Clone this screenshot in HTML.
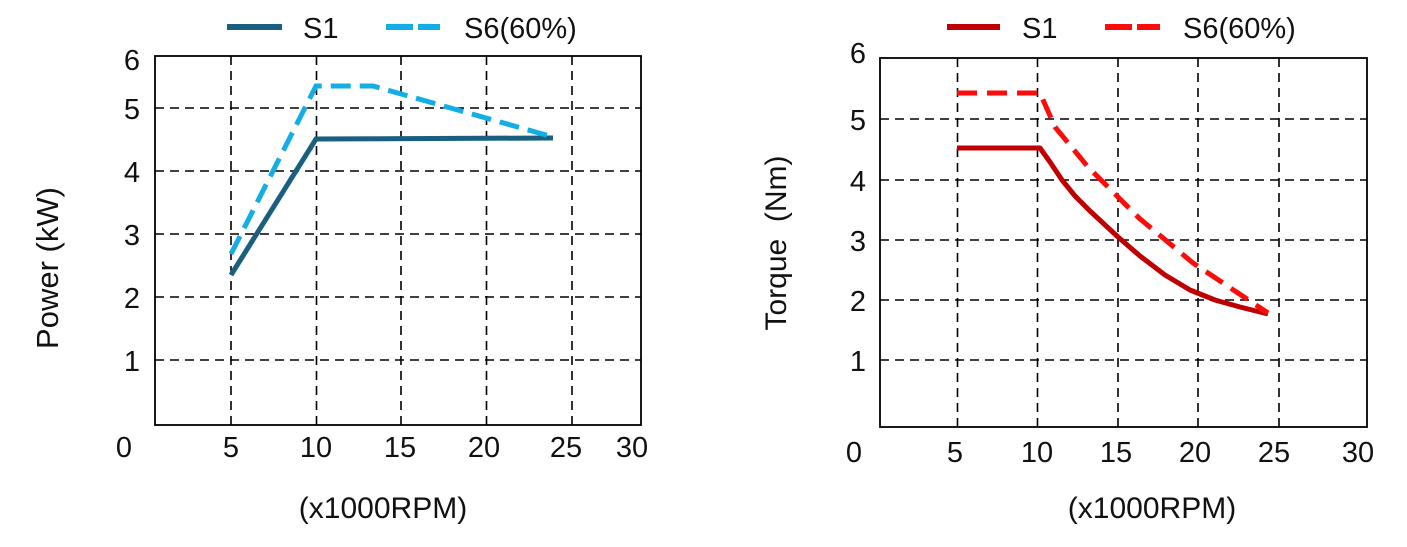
<!DOCTYPE html>
<html><head><meta charset="utf-8"><style>
html,body{margin:0;padding:0;background:#fff;}
svg{display:block;}
text{font-family:"Liberation Sans",sans-serif;fill:#111;}
</style></head><body>
<svg width="1407" height="547" viewBox="0 0 1407 547" xmlns="http://www.w3.org/2000/svg">
<!-- LEFT CHART -->
<g stroke="#000" stroke-width="1.6" stroke-dasharray="9,6" fill="none">
<line x1="231" y1="56" x2="231" y2="425"/><line x1="316.5" y1="56" x2="316.5" y2="425"/>
<line x1="401" y1="56" x2="401" y2="425"/><line x1="486.5" y1="56" x2="486.5" y2="425"/>
<line x1="572" y1="56" x2="572" y2="425"/>
<line x1="155" y1="108" x2="641" y2="108"/><line x1="155" y1="171" x2="641" y2="171"/>
<line x1="155" y1="234" x2="641" y2="234"/><line x1="155" y1="297" x2="641" y2="297"/>
<line x1="155" y1="360" x2="641" y2="360"/>
</g>
<rect x="155" y="56" width="486" height="369" fill="none" stroke="#000" stroke-width="1.8"/>
<polyline points="231,275 316,139 553,138" fill="none" stroke="#1a5f80" stroke-width="5"/>
<polyline points="231,254 316,86 373,86 553,137" fill="none" stroke="#13aee6" stroke-width="5" stroke-dasharray="20,9"/>
<g font-size="29" text-anchor="middle">
<text x="132" y="70">6</text><text x="132" y="119">5</text><text x="132" y="182">4</text>
<text x="132" y="245">3</text><text x="132" y="308">2</text><text x="132" y="371">1</text>
<text x="124" y="457">0</text><text x="231" y="457">5</text><text x="316" y="457">10</text>
<text x="400" y="457">15</text><text x="484" y="457">20</text><text x="566" y="457">25</text>
<text x="632" y="457">30</text>
<text x="383" y="518" font-size="30">(x1000RPM)</text>
<text transform="translate(58,268) rotate(-90)" font-size="31">Power (kW)</text>
</g>
<line x1="227" y1="27" x2="282" y2="27" stroke="#1a5f80" stroke-width="6"/>
<line x1="386" y1="27" x2="440" y2="27" stroke="#13aee6" stroke-width="6" stroke-dasharray="27,5"/>
<text x="303" y="38" font-size="29">S1</text>
<text x="464" y="38" font-size="29">S6(60%)</text>

<!-- RIGHT CHART -->
<g stroke="#000" stroke-width="1.6" stroke-dasharray="9,6" fill="none">
<line x1="957.5" y1="58" x2="957.5" y2="427"/><line x1="1037.5" y1="58" x2="1037.5" y2="427"/>
<line x1="1118" y1="58" x2="1118" y2="427"/><line x1="1198" y1="58" x2="1198" y2="427"/>
<line x1="1279" y1="58" x2="1279" y2="427"/>
<line x1="880" y1="119" x2="1367" y2="119"/><line x1="880" y1="180" x2="1367" y2="180"/>
<line x1="880" y1="240" x2="1367" y2="240"/><line x1="880" y1="300" x2="1367" y2="300"/>
<line x1="880" y1="360" x2="1367" y2="360"/>
</g>
<rect x="880" y="58" width="487" height="369" fill="none" stroke="#000" stroke-width="1.8"/>
<polyline points="957,148 1040,148 1050,162 1062,180 1075,196 1090,211 1118,237 1140,256 1165,275 1190,290 1215,300 1240,307 1268,314" fill="none" stroke="#c00000" stroke-width="5" stroke-linejoin="round"/>
<polyline points="957,93 1040,93 1055,127 1088,167 1139,218 1193,263 1268,313" fill="none" stroke="#ff0a0a" stroke-width="5" stroke-dasharray="20,10"/>
<g font-size="29" text-anchor="middle">
<text x="858" y="63">6</text><text x="858" y="130">5</text><text x="858" y="191">4</text>
<text x="858" y="251">3</text><text x="858" y="311">2</text><text x="858" y="371">1</text>
<text x="854" y="462">0</text><text x="955" y="462">5</text><text x="1037" y="462">10</text>
<text x="1116" y="462">15</text><text x="1195" y="462">20</text><text x="1274" y="462">25</text>
<text x="1358" y="462">30</text>
<text x="1152" y="518" font-size="30">(x1000RPM)</text>
<text transform="translate(786,243) rotate(-90)" font-size="30" xml:space="preserve">Torque  (Nm)</text>
</g>
<line x1="947" y1="27" x2="1000" y2="27" stroke="#c00000" stroke-width="6"/>
<line x1="1105" y1="27" x2="1160" y2="27" stroke="#ff0a0a" stroke-width="6" stroke-dasharray="27,5"/>
<text x="1022" y="38" font-size="29">S1</text>
<text x="1183" y="38" font-size="29">S6(60%)</text>
</svg>
</body></html>
